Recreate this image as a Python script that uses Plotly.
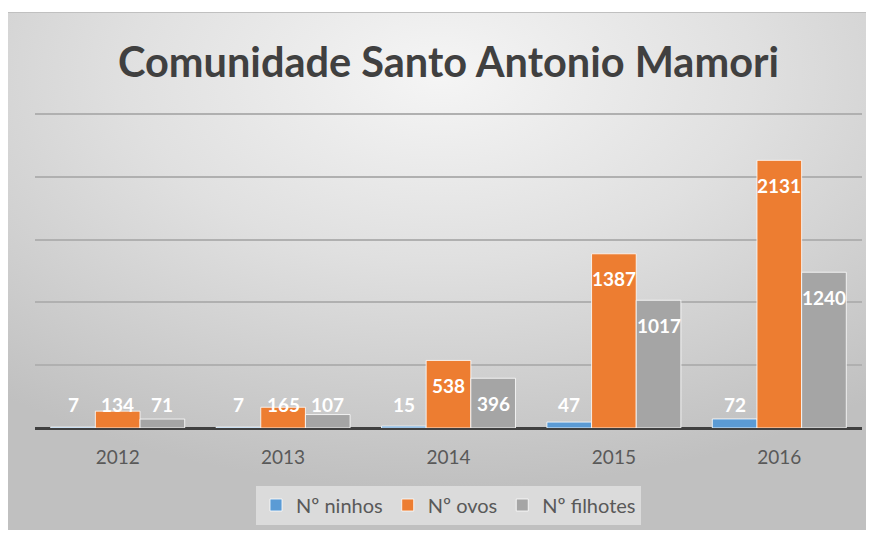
import base64
import plotly.graph_objects as go

years = ["2012", "2013", "2014", "2015", "2016"]
ninhos = [7, 7, 15, 47, 72]
ovos = [134, 165, 538, 1387, 2131]
filhotes = [71, 107, 396, 1017, 1240]
series_names = ["Nº ninhos", "Nº ovos", "Nº filhotes"]
series_colors = ["#5B9BD5", "#ED7D31", "#A5A5A5"]
y_ticks = [0, 500, 1000, 1500, 2000, 2500]
title_text = "Comunidade Santo Antonio Mamori"

# page body has an 8px margin, so the figure is laid out 8px smaller
W, H = 866, 528
L, R, T, B = 27, 12, 103, 108
pw, ph = W - L - R, H - T - B
y_max = 2524

fig = go.Figure()
for name, vals, col in zip(series_names, [ninhos, ovos, filhotes], series_colors):
    fig.add_trace(go.Bar(
        x=years, y=vals, name=name,
        marker=dict(color=col, line=dict(color="rgba(255,255,255,0.8)", width=1)),
        hoverinfo="x+y+name",
    ))

# data labels (inside end, clamped near the baseline like Excel)
cat_w = pw / len(years)
bar_w = cat_w * (1 - 0.19) / 3
annotations = []
for i, vals in enumerate([ninhos, ovos, filhotes]):
    for j, v in enumerate(vals):
        annotations.append(dict(
            x=j, y=max(v, 390), xref="x", yref="y",
            text=f"<b>{v}</b>", showarrow=False,
            xshift=(i - 1) * bar_w, yshift=-25,
            yanchor="middle", xanchor="center",
            font=dict(family="Lato", size=19, color="white"),
        ))

svg = '''<svg xmlns="http://www.w3.org/2000/svg" width="868" height="518" viewBox="0 0 868 518" preserveAspectRatio="none">
<defs><radialGradient id="g" cx="50%" cy="12%" r="80%" gradientUnits="objectBoundingBox">
<stop offset="0%" stop-color="#f5f5f5"/><stop offset="45%" stop-color="#e0e0e0"/><stop offset="100%" stop-color="#c0c0c0"/>
</radialGradient></defs>
<rect x="0" y="0" width="868" height="518" fill="url(#g)"/>
<rect x="0.5" y="0.5" width="867" height="517" fill="none" stroke="#c0c0c0" stroke-width="1"/>
</svg>'''
src = "data:image/svg+xml;base64," + base64.b64encode(svg.encode()).decode()

bx0, by0, bx1, by1 = -2, 4, 866, 522
fig.add_layout_image(dict(
    source=src, xref="paper", yref="paper",
    x=(bx0 - L) / pw, y=(H - B - by0) / ph,
    sizex=(bx1 - bx0) / pw, sizey=(by1 - by0) / ph,
    xanchor="left", yanchor="top", sizing="stretch", layer="below",
))

fig.update_layout(
    width=W, height=H,
    margin=dict(l=L, r=R, t=T, b=B),
    paper_bgcolor="white", plot_bgcolor="rgba(0,0,0,0)",
    barmode="group", bargap=0.19, bargroupgap=0.0,
    title=dict(text=f"<b>{title_text}</b>", x=0.5, xref="paper", xanchor="center",
               y=1 - 54 / H, yanchor="middle",
               font=dict(family="Lato", size=41.5, color="#404040")),
    font=dict(family="Lato", color="#595959"),
    showlegend=True,
    legend=dict(orientation="h", x=0.5, xanchor="center", y=(H - B - 497) / ph, yanchor="middle",
                bgcolor="rgba(240,240,240,0.55)", font=dict(size=20, color="#595959"),
                borderwidth=0, itemclick=False),
    annotations=annotations,
)
fig.update_xaxes(type="category", showgrid=False, showline=False, ticks="",
                 tickfont=dict(size=19, color="#595959"), ticklabelstandoff=16)
fig.update_yaxes(range=[0, y_max], tickvals=y_ticks,
                 showticklabels=False, showgrid=True,
                 gridcolor="#b0b0b0", gridwidth=2, zeroline=True,
                 zerolinecolor="#404040", zerolinewidth=3)

fig.write_html("out.html")
